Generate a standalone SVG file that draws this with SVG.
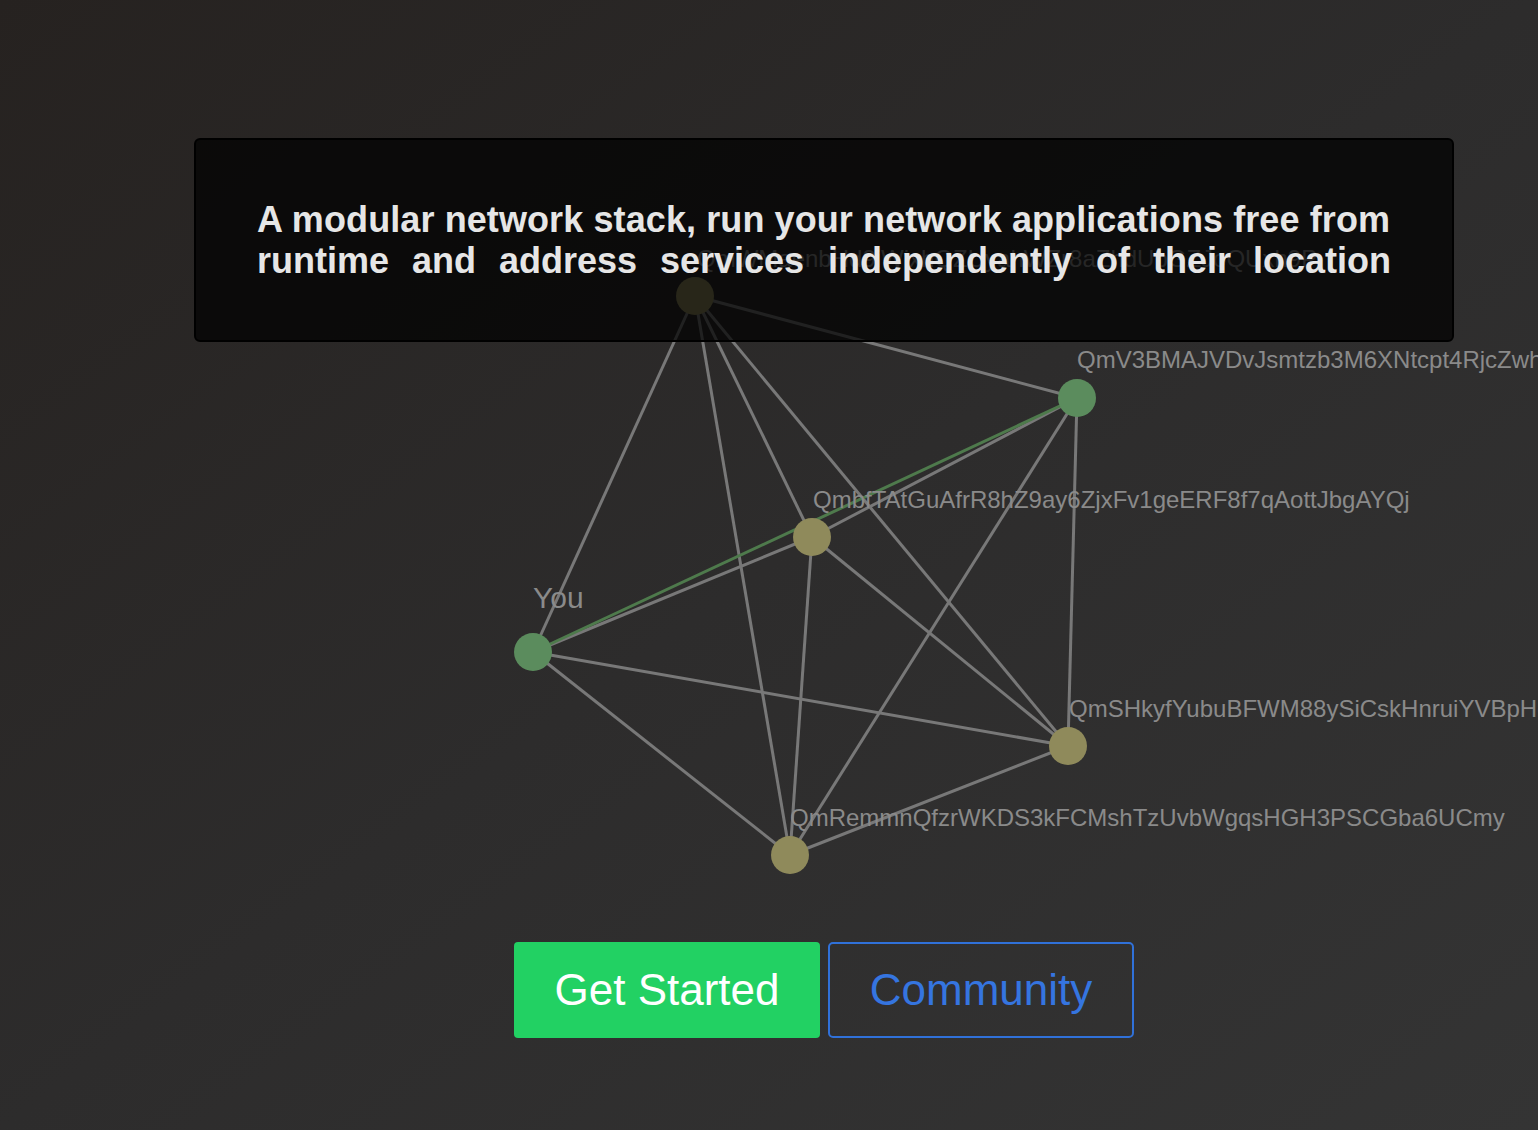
<svg xmlns="http://www.w3.org/2000/svg" width="1538" height="1130" viewBox="0 0 1538 1130">
<defs>
<linearGradient id="bg" x1="0" y1="0" x2="1" y2="1">
<stop offset="0" stop-color="#262220"/>
<stop offset="0.5" stop-color="#2d2c2c"/>
<stop offset="1" stop-color="#343434"/>
</linearGradient>
<style>
.e{stroke:#787878;stroke-width:3;fill:none}
.eg{stroke:#4e7a4c;stroke-width:3;fill:none}
.ng{fill:#5b8c5d}
.no{fill:#8f8a5b}
.lbl{font-family:"Liberation Sans",Arial,sans-serif;font-size:24px;fill:#8a8a8a}
.head{font-family:"Liberation Sans",Arial,sans-serif;font-size:36px;font-weight:bold;fill:#e6e6e6}
.btn{font-family:"Liberation Sans",Arial,sans-serif;font-size:44px;text-anchor:middle}
</style>
</defs>
<rect width="1538" height="1130" fill="url(#bg)"/>
<g id="connectors">
<line class="e" x1="695" y1="296" x2="533" y2="652"/>
<line class="e" x1="695" y1="296" x2="812" y2="537"/>
<line class="e" x1="695" y1="296" x2="1077" y2="398"/>
<line class="e" x1="695" y1="296" x2="1068" y2="746"/>
<line class="e" x1="695" y1="296" x2="790" y2="855"/>
<line class="e" x1="533" y1="652" x2="812" y2="537"/>
<line class="e" x1="533" y1="652" x2="1068" y2="746"/>
<line class="e" x1="533" y1="652" x2="790" y2="855"/>
<line class="e" x1="812" y1="537" x2="1077" y2="398"/>
<line class="e" x1="812" y1="537" x2="1068" y2="746"/>
<line class="e" x1="812" y1="537" x2="790" y2="855"/>
<line class="e" x1="1077" y1="398" x2="1068" y2="746"/>
<line class="e" x1="1077" y1="398" x2="790" y2="855"/>
<line class="e" x1="1068" y1="746" x2="790" y2="855"/>
<line class="eg" x1="533" y1="652" x2="1077" y2="398"/>
</g>
<g id="node-top">
<circle class="no" cx="695" cy="296" r="19"/>
<text class="lbl" x="697" y="267">QmWMaenbHd9iWixhQZUyahWZr8aZhdUbGZJoQUxh9P</text>
</g>
<g id="node-v3">
<circle class="ng" cx="1077" cy="398" r="19"/>
<text class="lbl" x="1077" y="368">QmV3BMAJVDvJsmtzb3M6XNtcpt4RjcZwhXk</text>
</g>
<g id="node-bf">
<circle class="no" cx="812" cy="537" r="19"/>
<text class="lbl" x="813" y="508">QmbfTAtGuAfrR8hZ9ay6ZjxFv1geERF8f7qAottJbgAYQj</text>
</g>
<g id="node-you">
<circle class="ng" cx="533" cy="652" r="19"/>
<text class="lbl" x="533" y="608" style="font-size:30px">You</text>
</g>
<g id="node-sh">
<circle class="no" cx="1068" cy="746" r="19"/>
<text class="lbl" x="1069" y="717">QmSHkyfYubuBFWM88ySiCskHnruiYVBpHc</text>
</g>
<g id="node-remm">
<circle class="no" cx="790" cy="855" r="19"/>
<text class="lbl" x="790" y="826">QmRemmnQfzrWKDS3kFCMshTzUvbWgqsHGH3PSCGba6UCmy</text>
</g>
<g id="banner">
<rect x="195" y="139" width="1258" height="202" rx="5" fill="#000" fill-opacity="0.72" stroke="#000" stroke-width="2"/>
<text class="head" x="257" y="232" textLength="1133" lengthAdjust="spacing">A modular network stack, run your network applications free from</text>
<text class="head" y="273"><tspan x="257">runtime</tspan><tspan x="412">and</tspan><tspan x="499">address</tspan><tspan x="660">services</tspan><tspan x="828">independently</tspan><tspan x="1096">of</tspan><tspan x="1153">their</tspan><tspan x="1253">location</tspan></text>
</g>
<g id="btn-get-started">
<rect x="514" y="942" width="306" height="96" rx="4" fill="#22d163"/>
<text class="btn" x="667" y="1005" fill="#ffffff">Get Started</text>
</g>
<g id="btn-community">
<rect x="829" y="943" width="304" height="94" rx="4" fill="none" stroke="#3071d9" stroke-width="2"/>
<text class="btn" x="981" y="1005" fill="#3575e0">Community</text>
</g>
</svg>
